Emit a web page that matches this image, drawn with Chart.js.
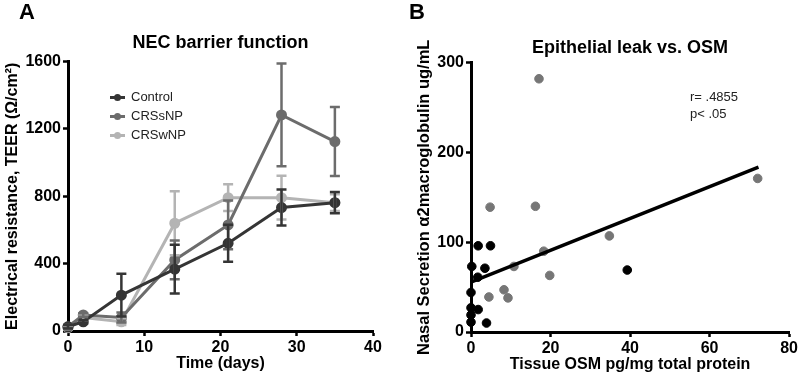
<!DOCTYPE html>
<html>
<head>
<meta charset="utf-8">
<script src="https://cdn.jsdelivr.net/npm/chart.js@4.4.1/dist/chart.umd.min.js"></script>
<style>
html, body { margin: 0; padding: 0; background: #fff; }
#wrap { position: relative; width: 800px; height: 377px; }
canvas { position: absolute; top: 0; }
#cA { left: 0; }
#cB { left: 400px; }
</style>
</head>
<body>
<div id="wrap">
    <canvas id="cA" width="400" height="377"></canvas>
    <canvas id="cB" width="400" height="377"></canvas>
</div>
<script>
// ===== Panel A: NEC barrier function (TEER, mean ± SEM) =====
const days = [0, 2, 7, 14, 21, 28, 35];
const controlMean = [25, 55, 213, 367, 521, 733, 762];
const controlSem = [10, 10, 127, 145, 110, 107, 63];
const crssnpMean = [25, 95, 80, 422, 630, 1283, 1125];
const crssnpSem = [10, 10, 30, 115, 145, 305, 205];
const crswnpMean = [20, 80, 55, 640, 792, 792, 762];
const crswnpSem = [10, 15, 20, 190, 80, 130, 50];

// ===== Panel B: Epithelial leak vs. OSM =====
const blackOsm = [1.8, 4.9, 0.2, 3.5, 1.7, 39.3, 0, 0, 1.8, 0, 0, 3.9];
const blackA2m = [96, 96, 73, 71, 61, 69, 44, 27, 25, 19, 11, 10];
const grayOsm = [4.8, 16.2, 34.8, 18.3, 10.8, 19.8, 8.3, 9.3, 4.5, 17.1, 72.1];
const grayA2m = [139, 140, 107, 90, 73, 63, 47, 38, 39, 282, 171];
const fitOsm = [0, 72.3];
const fitA2m = [55.5, 183.5];

const FONT = "'Liberation Sans', Arial, sans-serif";
Chart.defaults.font.family = FONT;
Chart.defaults.color = '#000';
Chart.defaults.animation = false;

const pts = (xs, ys) => xs.map((x, i) => ({ x, y: ys[i] }));

function axis(min, max, step, title, titleFont, titlePad, fitSize) {
    return {
        type: 'linear', min, max,
        ticks: { stepSize: step, font: { size: 16, weight: 'bold' }, color: '#000', padding: 2, callback: v => String(v) },
        grid: { display: true, drawOnChartArea: false, tickLength: 5, tickColor: '#000', tickWidth: 2.5 },
        border: { color: '#000', width: 3 },
        title: { display: true, text: title, font: { size: titleFont, weight: 'bold' }, color: '#000', padding: titlePad },
        afterFit: s => { if (s.isHorizontal()) s.height = fitSize; else s.width = fitSize; }
    };
}

// error bars, drawn last-to-first so Control stays on top
const errorBars = {
    id: 'errorBars',
    afterDatasetsDraw(chart) {
        const { ctx, scales: { x, y } } = chart;
        const sets = chart.data.datasets;
        for (let d = sets.length - 1; d >= 0; d--) {
            const ds = sets[d];
            if (!ds.sem) continue;
            ctx.save();
            ctx.strokeStyle = ds.borderColor;
            ctx.lineWidth = 2.5;
            ds.data.forEach((p, i) => {
                const px = x.getPixelForValue(p.x);
                const top = y.getPixelForValue(p.y + ds.sem[i]);
                const bot = y.getPixelForValue(Math.max(0, p.y - ds.sem[i]));
                ctx.beginPath();
                ctx.moveTo(px, top); ctx.lineTo(px, bot);
                ctx.moveTo(px - 5, top); ctx.lineTo(px + 5, top);
                ctx.moveTo(px - 5, bot); ctx.lineTo(px + 5, bot);
                ctx.stroke();
            });
            ctx.restore();
        }
    }
};

// free text: panel letters, inline legend, stats note
const notes = {
    id: 'notes',
    afterDraw(chart, args, opts) {
        const ctx = chart.ctx;
        ctx.save();
        (opts.items || []).forEach(t => {
            ctx.font = t.font;
            ctx.fillStyle = t.color || '#000';
            ctx.textAlign = 'left';
            ctx.textBaseline = 'middle';
            ctx.fillText(t.text, t.x, t.y);
        });
        if (opts.legend) {
            const L = opts.legend;
            chart.data.datasets.forEach((ds, i) => {
                const yy = L.y + i * L.gap;
                ctx.strokeStyle = ds.borderColor;
                ctx.fillStyle = ds.borderColor;
                ctx.lineWidth = 3;
                ctx.beginPath(); ctx.moveTo(L.x, yy); ctx.lineTo(L.x + 15, yy); ctx.stroke();
                ctx.beginPath(); ctx.arc(L.x + 7.5, yy, 3.5, 0, Math.PI * 2); ctx.fill();
                ctx.fillStyle = '#222';
                ctx.font = '13px ' + FONT;
                ctx.textAlign = 'left';
                ctx.textBaseline = 'middle';
                ctx.fillText(ds.label, L.x + 21, yy);
            });
        }
        ctx.restore();
    }
};

function lineSet(label, color, mean, sem) {
    return {
        label, data: pts(days, mean), sem,
        borderColor: color, backgroundColor: color,
        borderWidth: 3, pointRadius: 4, pointHoverRadius: 4, tension: 0, clip: false
    };
}

new Chart(document.getElementById('cA'), {
    type: 'line',
    data: {
        datasets: [
            lineSet('Control', '#353535', controlMean, controlSem),
            lineSet('CRSsNP', '#6c6c6c', crssnpMean, crssnpSem),
            lineSet('CRSwNP', '#b4b4b4', crswnpMean, crswnpSem)
        ]
    },
    options: {
        responsive: false,
        layout: { padding: { left: 0, right: 27, top: 0, bottom: 0 } },
        scales: {
            x: axis(0, 40, 10, 'Time (days)', 16, { top: 0, bottom: 4 }, 46),
            y: axis(0, 1600, 400, 'Electrical resistance, TEER (\u03A9/cm\u00B2)', 16, { top: 3, bottom: 0 }, 68)
        },
        plugins: {
            legend: { display: false },
            tooltip: { enabled: false },
            title: {
                display: true, text: 'NEC barrier function', fullSize: false,
                font: { size: 18, weight: 'bold' }, color: '#000',
                padding: { top: 32, bottom: 8 }
            },
            notes: {
                items: [{ text: 'A', x: 19, y: 13, font: 'bold 22px ' + FONT }],
                legend: { x: 110, y: 97.5, gap: 19 }
            }
        }
    },
    plugins: [errorBars, notes]
});

new Chart(document.getElementById('cB'), {
    type: 'scatter',
    data: {
        datasets: [
            { label: 'fit', type: 'line', data: pts(fitOsm, fitA2m), borderColor: '#000', borderWidth: 3.5, pointRadius: 0, showLine: true, clip: false },
            { label: 'black', data: pts(blackOsm, blackA2m), backgroundColor: '#000', borderColor: '#000', pointRadius: 4.3, clip: false },
            { label: 'gray', data: pts(grayOsm, grayA2m), backgroundColor: '#767676', borderColor: '#767676', pointRadius: 4.3, clip: false }
        ]
    },
    options: {
        responsive: false,
        layout: { padding: { left: 0, right: 10, top: 0, bottom: 0 } },
        scales: {
            x: axis(0, 80, 20, 'Tissue OSM pg/mg total protein', 16, { top: 0, bottom: 3 }, 45),
            y: axis(0, 300, 100, 'Nasal Secretion \u03B12macroglobulin ug/mL', 16.5, { top: 15, bottom: 0 }, 71)
        },
        plugins: {
            legend: { display: false },
            tooltip: { enabled: false },
            title: {
                display: true, text: 'Epithelial leak vs. OSM', fullSize: false,
                font: { size: 18, weight: 'bold' }, color: '#000',
                padding: { top: 37, bottom: 4 }
            },
            notes: {
                items: [
                    { text: 'B', x: 9, y: 13, font: 'bold 22px ' + FONT },
                    { text: 'r= .4855', x: 290, y: 97, font: '13px ' + FONT, color: '#222' },
                    { text: 'p< .05', x: 290, y: 114, font: '13px ' + FONT, color: '#222' }
                ]
            }
        }
    },
    plugins: [notes]
});
</script>
</body>
</html>
